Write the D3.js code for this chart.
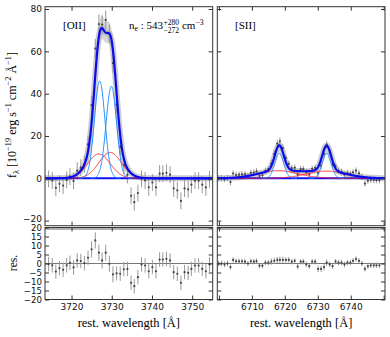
<!DOCTYPE html>
<html>
<head>
<meta charset="utf-8">
<script src="https://cdn.jsdelivr.net/npm/d3@7"></script>
<style>
body { margin: 0; background: #fff; }
svg { display: block; }
</style>
</head>
<body>
<script>
// [OII] panel: spectrum pixels, residuals (data - model) and 1-sigma errors
var oiiWave = [3714.3, 3715.2, 3716.1, 3717.0, 3717.9, 3718.8, 3719.6, 3720.5, 3721.4, 3722.3,
    3723.2, 3724.1, 3725.0, 3725.9, 3726.8, 3727.6, 3728.5, 3729.4, 3730.3, 3731.2,
    3732.1, 3733.0, 3733.9, 3734.8, 3735.6, 3736.5, 3737.4, 3738.3, 3739.2, 3740.1,
    3741.0, 3741.9, 3742.7, 3743.6, 3744.5, 3745.4, 3746.3, 3747.2, 3748.1, 3749.0,
    3749.8, 3750.7, 3751.6, 3752.5, 3753.4, 3754.3];
var oiiRes = [-0.3, -1, -4.5, -2.6, -3.5, -1, 0.4, -2.2, 1.7, 1.4,
    0.2, 3.2, 7.9, 12.8, 6, 1.7, 6, -0.2, -6, -5.5,
    -5.7, -3.2, -3, -10.7, -12.6, -7.6, -0.5, -1.1, -4.3, -2,
    -4.3, 2.2, 2.2, 2.6, 1.7, -4.8, -5.7, -10.7, -4.8, -5.2,
    -3, -1.1, -1.1, -3, -4.3, -0.5];
var oiiErr = [4, 4, 4, 4, 4, 4, 4, 4, 4, 4,
    4, 4, 4.5, 4.5, 4.5, 4.5, 4.5, 4.5, 4.5, 4,
    4, 4, 4, 4, 4, 4, 4, 4, 4, 4,
    4, 4, 4, 4, 4, 4, 4, 4, 4, 4,
    4, 4, 4, 4, 4, 4];
// gaussian components [amplitude, centre, sigma]
var oiiNarrow = [[46, 3727.0, 1.3], [43.5, 3729.9, 1.3]];
var oiiBroad = [[11.5, 3726.8, 2.8], [12.2, 3729.6, 2.8]];

// [SII] panel
var siiWave = [6699.9, 6700.8, 6701.7, 6702.6, 6703.5, 6704.3, 6705.2, 6706.1, 6707.0, 6707.9,
    6708.8, 6709.7, 6710.6, 6711.4, 6712.3, 6713.2, 6714.1, 6715.0, 6715.9, 6716.8,
    6717.7, 6718.5, 6719.4, 6720.3, 6721.2, 6722.1, 6723.0, 6723.9, 6724.8, 6725.6,
    6726.5, 6727.4, 6728.3, 6729.2, 6730.1, 6731.0, 6731.9, 6732.7, 6733.6, 6734.5,
    6735.4, 6736.3, 6737.2, 6738.1, 6739.0, 6739.9, 6740.7, 6741.6, 6742.5, 6743.4,
    6744.3, 6745.2, 6746.1, 6747.0, 6747.8, 6748.7];
var siiRes = [0, 0, -0.5, 0, -2, 2, 1.2, 1.2, 1.2, 1,
    0, 1.2, 1, 1.3, -1.2, -1.2, 0.5, 0.5, 1, 1.5,
    2, 2, 2, 2, 2, 1, 1.5, -1.7, 1, 1,
    -0.5, -1.5, 1, 1, -3, -3, -2, 0.5, -0.5, -1.5,
    1, 0.5, 0.5, -0.5, 0.5, 0.5, 1.5, 2.5, 1.5, 0,
    -3, -1.5, -1, -1, -1, -1];
var siiErr = [1.5, 1.5, 1.5, 1.5, 1.5, 1.5, 1.5, 1.5, 1.5, 1.5,
    1.5, 1.5, 1.5, 1.5, 1.5, 1.5, 1.5, 1.5, 1.8, 1.8,
    1.8, 1.8, 1.8, 1.5, 1.5, 1.5, 1.5, 1.5, 1.5, 1.5,
    1.5, 1.5, 1.5, 1.5, 1.8, 1.8, 1.8, 1.8, 1.5, 1.5,
    1.5, 1.5, 1.5, 1.5, 1.5, 1.5, 1.5, 1.5, 1.5, 1.5,
    1.5, 1.5, 1.5, 1.5, 1.5, 1.5];
var siiNarrow = [[11.8, 6718.3, 1.35], [11.8, 6732.7, 1.35]];
var siiBroad = [[3.6, 6718.0, 6], [3.4, 6732.6, 6]];

var xTicksOii = [3720, 3730, 3740, 3750];
var xTicksSii = [6700, 6710, 6720, 6730, 6740, 6750];
var yTicksMain = [-20, 0, 20, 40, 60, 80];
var yTicksRes = [-20, -15, -10, -5, 0, 5, 10, 15, 20];

var width = 390;
var height = 337;

var svg = d3.select("body")
    .append("svg")
    .attr("width", width)
    .attr("height", height)
    .style("font-family", "DejaVu Sans, sans-serif");

var yMain = d3.scaleLinear().domain([-22.4, 81.1]).range([225.7, 6.7]);
var yRes = d3.scaleLinear().domain([-20, 20]).range([299.5, 227.5]);

var panels = [
    {x: d3.scaleLinear().domain([3713.4, 3755.1]).range([45, 212.7]),
     wave: oiiWave, res: oiiRes, err: oiiErr, narrow: oiiNarrow, broad: oiiBroad,
     ticks: xTicksOii, labels: true, broadRange: [3716, 3741]},
    {x: d3.scaleLinear().domain([6699.5, 6750.4]).range([217.3, 385]),
     wave: siiWave, res: siiRes, err: siiErr, narrow: siiNarrow, broad: siiBroad,
     ticks: xTicksSii, labels: false, broadRange: [6704, 6746]}
];

function gauss(c, w) {
    return c[0] * Math.exp(-0.5 * Math.pow((w - c[1]) / c[2], 2));
}
function model(p, w) {
    return d3.sum(p.narrow, c => gauss(c, w)) + d3.sum(p.broad, c => gauss(c, w));
}

panels.forEach(function(p, pi) {
    var x = p.x;
    var x0 = x.range()[0], x1 = x.range()[1];
    var clipId = "clip" + pi;
    var defs = svg.append("defs");
    defs.append("clipPath").attr("id", clipId + "m")
        .append("rect").attr("x", x0).attr("y", yMain.range()[1])
        .attr("width", x1 - x0).attr("height", yMain.range()[0] - yMain.range()[1]);
    defs.append("clipPath").attr("id", clipId + "r")
        .append("rect").attr("x", x0).attr("y", yRes.range()[1])
        .attr("width", x1 - x0).attr("height", yRes.range()[0] - yRes.range()[1]);

    var grid = d3.range(x.domain()[0], x.domain()[1], 0.05);
    var pts = p.wave.map((w, i) => ({w: w, res: p.res[i], err: p.err[i], flux: model(p, w) + p.res[i]}));

    var gm = svg.append("g").attr("clip-path", "url(#" + clipId + "m)");

    // spread of model realisations
    gm.append("path")
        .datum(grid)
        .attr("fill", "#bbb")
        .attr("opacity", 0.6)
        .attr("d", d3.area()
            .x(w => x(w))
            .y0(w => yMain(model(p, w) * 0.93))
            .y1(w => yMain(model(p, w) * 1.08)));
    gm.append("path")
        .datum(grid)
        .attr("fill", "none")
        .attr("stroke", "#aaa")
        .attr("stroke-opacity", 0.6)
        .attr("stroke-width", 6)
        .attr("d", d3.line().x(w => x(w)).y(w => yMain(model(p, w))));

    // data with error bars
    gm.append("g").selectAll("line")
        .data(pts)
        .join("line")
        .attr("x1", d => x(d.w)).attr("x2", d => x(d.w))
        .attr("y1", d => yMain(d.flux - d.err)).attr("y2", d => yMain(d.flux + d.err))
        .attr("stroke", "#999").attr("stroke-width", 1);
    gm.append("g").selectAll("circle")
        .data(pts)
        .join("circle")
        .attr("cx", d => x(d.w)).attr("cy", d => yMain(d.flux))
        .attr("r", 1.1).attr("fill", "#444");

    // continuum
    gm.append("line")
        .attr("x1", x0).attr("x2", x1)
        .attr("y1", yMain(0)).attr("y2", yMain(0))
        .attr("stroke", "#1010ff").attr("stroke-width", 2);

    var broadGrid = grid.filter(w => w >= p.broadRange[0] && w <= p.broadRange[1]);
    p.broad.forEach(function(c) {
        gm.append("path").datum(broadGrid)
            .attr("fill", "none").attr("stroke", "#ff2020").attr("stroke-width", 1)
            .attr("d", d3.line().x(w => x(w)).y(w => yMain(gauss(c, w))));
    });
    p.narrow.forEach(function(c) {
        var ng = grid.filter(w => Math.abs(w - c[1]) < 4 * c[2]);
        gm.append("path").datum(ng)
            .attr("fill", "none").attr("stroke", "#1e90ff").attr("stroke-width", 1)
            .attr("d", d3.line().x(w => x(w)).y(w => yMain(gauss(c, w))));
    });
    gm.append("path").datum(grid)
        .attr("fill", "none").attr("stroke", "#0a0aee").attr("stroke-width", 2.2)
        .attr("d", d3.line().x(w => x(w)).y(w => yMain(model(p, w))));

    // residual panel
    var gr = svg.append("g").attr("clip-path", "url(#" + clipId + "r)");
    gr.append("line")
        .attr("x1", x0).attr("x2", x1)
        .attr("y1", yRes(0)).attr("y2", yRes(0))
        .attr("stroke", "#777").attr("stroke-width", 1.2);
    gr.append("line")
        .attr("x1", x0).attr("x2", x1)
        .attr("y1", yRes(20) + 1.5).attr("y2", yRes(20) + 1.5)
        .attr("stroke", "#999").attr("stroke-width", 1.5);
    gr.append("g").selectAll("line")
        .data(pts)
        .join("line")
        .attr("x1", d => x(d.w)).attr("x2", d => x(d.w))
        .attr("y1", d => yRes(d.res - d.err)).attr("y2", d => yRes(d.res + d.err))
        .attr("stroke", "#999").attr("stroke-width", 1);
    gr.append("g").selectAll("circle")
        .data(pts)
        .join("circle")
        .attr("cx", d => x(d.w)).attr("cy", d => yRes(d.res))
        .attr("r", 1.1).attr("fill", "#444");

    // axes: inward ticks on all sides
    function styleAxis(g) {
        g.select(".domain").remove();
        g.selectAll(".tick line").attr("stroke", "#333");
        g.selectAll("text").attr("fill", "#111").style("font-size", "9px").style("font-family", "DejaVu Sans, sans-serif");
    }
    var tickVals = p.ticks;
    [[yMain, yTicksMain], [yRes, yTicksRes]].forEach(function(pair, k) {
        var y = pair[0];
        svg.append("g").attr("transform", "translate(0," + y.range()[0] + ")")
            .call(d3.axisBottom(x).tickValues(tickVals).tickSize(-4).tickSizeOuter(0)
                .tickPadding(4).tickFormat(k == 1 ? d3.format("d") : ""))
            .call(styleAxis)
            .selectAll("text").filter(d => d < x.domain()[0] + 2 || d > x.domain()[1] - 2).remove();
        svg.append("g").attr("transform", "translate(0," + y.range()[1] + ")")
            .call(d3.axisTop(x).tickValues(tickVals).tickSize(-4).tickSizeOuter(0).tickFormat(""))
            .call(styleAxis);
        var la = svg.append("g").attr("transform", "translate(" + x0 + ",0)")
            .call(d3.axisLeft(y).tickValues(pair[1]).tickSize(-4).tickSizeOuter(0)
                .tickPadding(3).tickFormat(p.labels ? d3.format("d") : ""))
            .call(styleAxis);
        // bottom label of the main panel sits just above the residual panel
        if (k == 0) la.selectAll("text").filter(d => d == -20).attr("dy", "0.1em");
        if (k == 1) la.selectAll("text").style("font-size", "8.6px");
        svg.append("g").attr("transform", "translate(" + x1 + ",0)")
            .call(d3.axisRight(y).tickValues(pair[1]).tickSize(-4).tickSizeOuter(0).tickFormat(""))
            .call(styleAxis);
        svg.append("rect")
            .attr("x", x0).attr("y", y.range()[1])
            .attr("width", x1 - x0).attr("height", y.range()[0] - y.range()[1])
            .attr("fill", "none").attr("stroke", "#333").attr("stroke-width", 1);
    });

    svg.append("text")
        .attr("x", (x0 + x1) / 2).attr("y", 327)
        .attr("text-anchor", "middle")
        .style("font-family", "Liberation Serif, serif").style("font-size", "12.5px")
        .text("rest.  wavelength [Å]");
});

// rich text helper: parts of [string, offset] with offset 0 / "sup" / "sub"
function rich(t, parts, size) {
    var cur = 0;
    parts.forEach(function(pt) {
        var off = pt[1] == "sup" ? -0.38 * size : pt[1] == "sub" ? 0.22 * size : 0;
        t.append("tspan")
            .attr("dy", off - cur)
            .style("font-size", pt[1] ? (size * 0.7) + "px" : size + "px")
            .text(pt[0]);
        cur = off;
    });
}

var serif = "Liberation Serif, serif";

svg.append("text").attr("x", 63).attr("y", 29)
    .style("font-family", serif).style("font-size", "11px").text("[OII]");
svg.append("text").attr("x", 235).attr("y", 29)
    .style("font-family", serif).style("font-size", "11px").text("[SII]");

// electron density with stacked upper / lower errors
var ne = svg.append("g").style("font-family", serif);
var neText = ne.append("text").attr("x", 129).attr("y", 29);
rich(neText, [["n", 0], ["e", "sub"], [" : 543", 0]], 11);
var nx = 129 + neText.node().getComputedTextLength() + 0.5;
var up = ne.append("text").attr("x", nx).attr("y", 24.5).style("font-size", "7.5px").text("+280");
var lo = ne.append("text").attr("x", nx).attr("y", 32.5).style("font-size", "7.5px").text("−272");
nx += Math.max(up.node().getComputedTextLength(), lo.node().getComputedTextLength()) + 3;
var unit = ne.append("text").attr("x", nx).attr("y", 29);
rich(unit, [["cm", 0], ["−3", "sup"]], 11);

var yl = svg.append("text")
    .attr("transform", "translate(16,115) rotate(-90)")
    .attr("text-anchor", "middle")
    .style("font-family", serif);
rich(yl, [["f", 0], ["λ", "sub"], [" [10", 0], ["−19", "sup"], [" erg s", 0], ["−1", "sup"],
    [" cm", 0], ["−2", "sup"], [" Å", 0], ["−1", "sup"], ["]", 0]], 12);

svg.append("text")
    .attr("transform", "translate(17,263) rotate(-90)")
    .attr("text-anchor", "middle")
    .style("font-family", serif).style("font-size", "11.5px")
    .text("res.");
</script>
</body>
</html>
